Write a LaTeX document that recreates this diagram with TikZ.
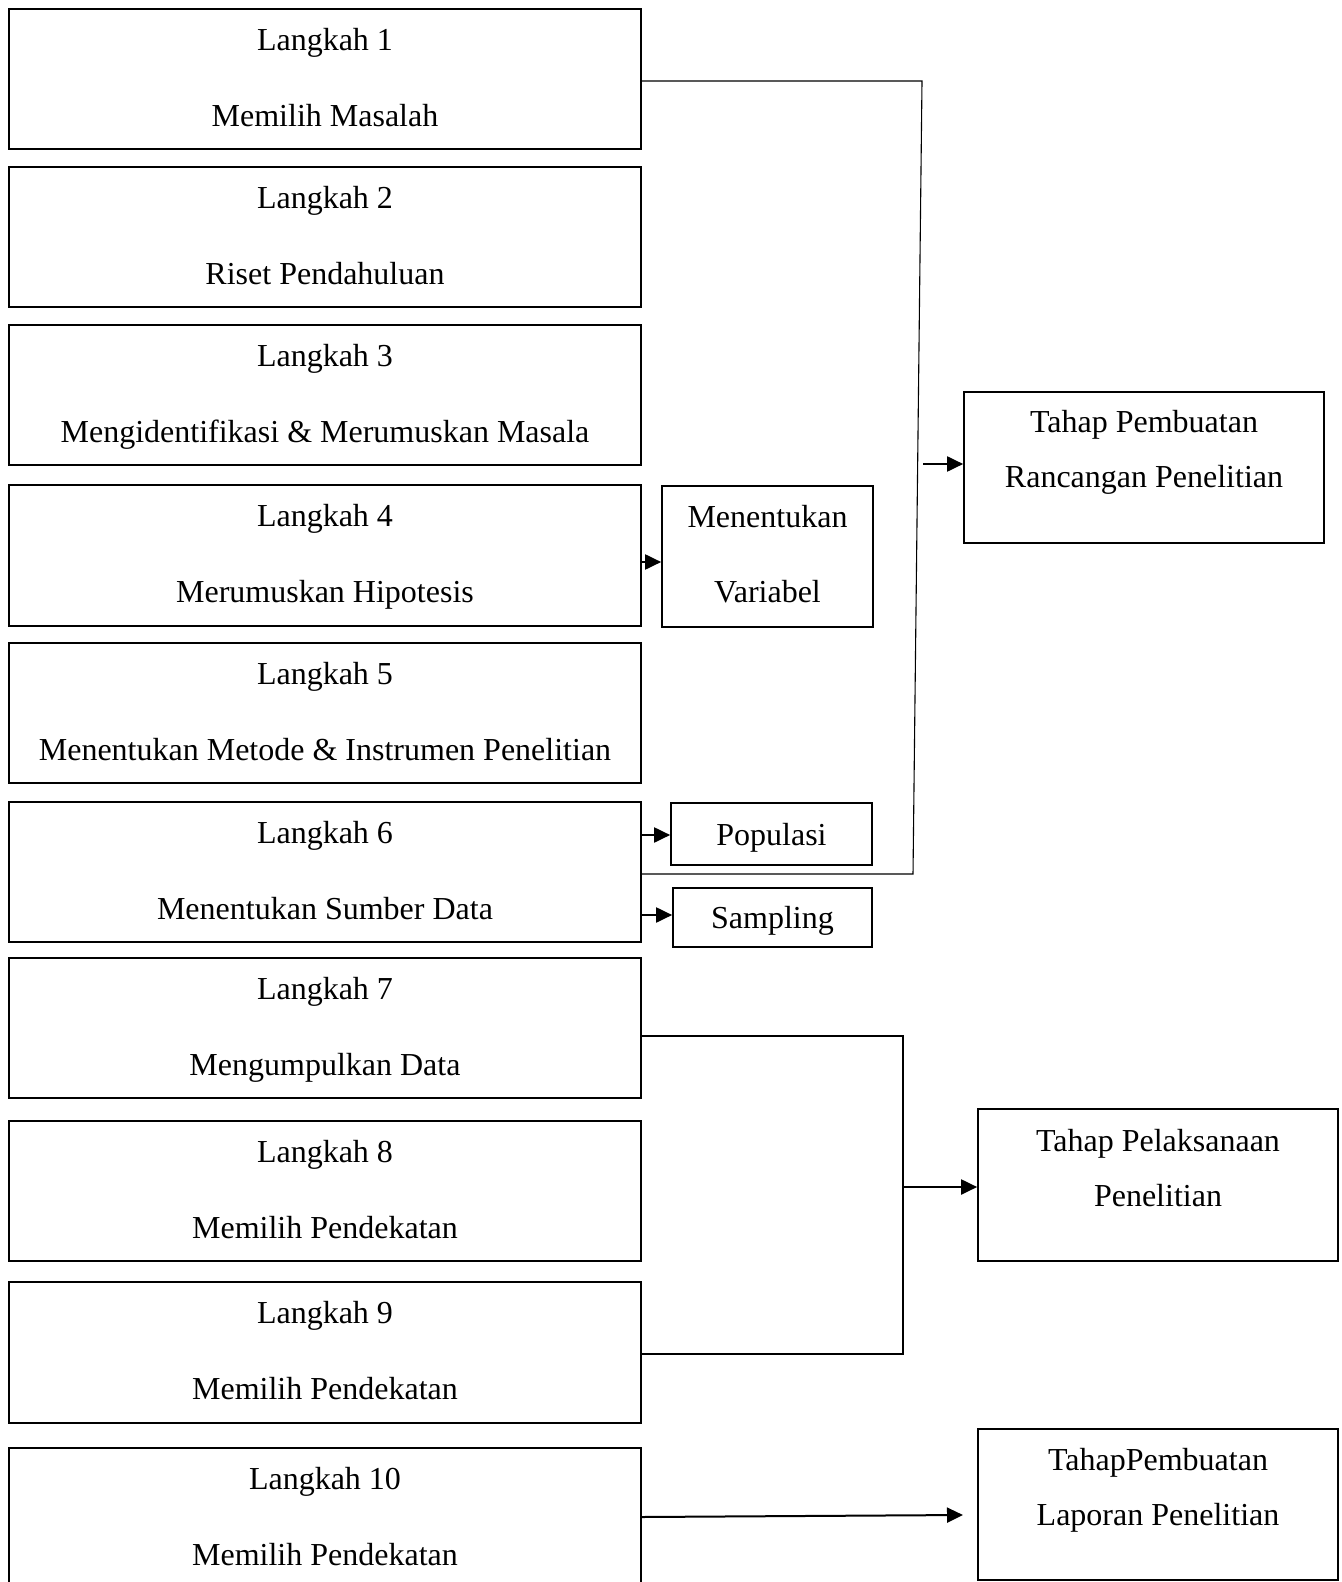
\documentclass[tikz,border=0pt]{standalone}
\usepackage{fontspec}
\setmainfont{Liberation Serif}
\usetikzlibrary{fit,arrows.meta,calc}
\tikzset{
 bx/.style={draw, line width=0.85pt, inner sep=0pt},
 tx/.style={anchor=base, inner sep=0pt, font=\fontsize{16}{19}\selectfont},
 link/.style={draw, line width=0.55pt},
 arr/.style={draw, line width=1pt, -{Triangle[length=8pt,width=7.5pt]}},
}
\newcommand\mkbox[5]{\node[bx, fit={(#2,#3)(#4,#5)}] (#1) {};}
\begin{document}
\begin{tikzpicture}[x=0.5pt,y=-0.5pt]
\useasboundingbox (0,0) rectangle (1341,1582);
% left column
\foreach \i/\t/\b/\txt in {1/9/149/Memilih Masalah,
  2/167/307/Riset Pendahuluan,
  3/325/465/Mengidentifikasi \& Merumuskan Masala,
  4/485/626/Merumuskan Hipotesis,
  5/643/783/Menentukan Metode \& Instrumen Penelitian,
  6/802/942/Menentukan Sumber Data,
  7/958/1098/Mengumpulkan Data,
  8/1121/1261/Memilih Pendekatan,
  9/1282/1423/Memilih Pendekatan,
  10/1448/1600/Memilih Pendekatan}{
  \mkbox{s\i}{9}{\t}{641}{\b}
  \node[tx] (s\i a) at ($(s\i.north)+(0,42)$) {Langkah \i};
  \node[tx] (s\i b) at ($(s\i.north)+(0,118)$) {\txt};
}
% side boxes
\mkbox{v}{662}{486}{873}{627}
\node[tx] (va) at ($(v.north)+(0,42)$) {Menentukan};
\node[tx] (vb) at ($(v.north)+(0,117)$) {Variabel};
\mkbox{pop}{671}{803}{872}{865}
\node[tx] (popt) at ($(pop.center)+(0,11)$) {Populasi};
\mkbox{smp}{673}{888}{872}{947}
\node[tx] (smpt) at ($(smp.center)+(0,11)$) {Sampling};
% stage boxes
\mkbox{t1}{964}{392}{1324}{543}
\node[tx] (t1a) at ($(t1.north)+(0,41)$) {Tahap Pembuatan};
\node[tx] (t1b) at ($(t1.north)+(0,96)$) {Rancangan Penelitian};
\mkbox{t2}{978}{1109}{1338}{1261}
\node[tx] (t2a) at ($(t2.north)+(0,43)$) {Tahap Pelaksanaan};
\node[tx] (t2b) at ($(t2.north)+(0,98)$) {Penelitian};
\mkbox{t3}{978}{1429}{1338}{1580}
\node[tx] (t3a) at ($(t3.north)+(0,42)$) {TahapPembuatan};
\node[tx] (t3b) at ($(t3.north)+(0,97)$) {Laporan Penelitian};
% bracket 1
\coordinate (b1t) at (922,81);
\coordinate (b1b) at (913,874);
\coordinate (a1s) at (923,464);
\draw[link] (s1.east |- b1t) -- (b1t) -- (b1b) -- (s6.east |- b1b);
\draw[arr] (a1s) -- (t1.west |- a1s);
% small arrows
\coordinate (a4) at (0,562);
\draw[arr] (s4.east |- a4) -- (v.west |- a4);
\coordinate (a6p) at (0,835);
\draw[arr] (s6.east |- a6p) -- (pop.west |- a6p);
\coordinate (a6s) at (0,915);
\draw[arr] (s6.east |- a6s) -- (smp.west |- a6s);
% bracket 2
\coordinate (b2t) at (903,1036);
\coordinate (b2b) at (903,1354);
\coordinate (b2m) at (903,1187);
\draw[link] (s7.east |- b2t) -- (b2t) -- (b2b) -- (s9.east |- b2b);
\draw[arr] (b2m) -- (t2.west |- b2m);
% arrow 10
\coordinate (a10s) at (0,1517);
\coordinate (a10e) at (963,1515);
\draw[arr] (s10.east |- a10s) -- (a10e);
\end{tikzpicture}
\end{document}
